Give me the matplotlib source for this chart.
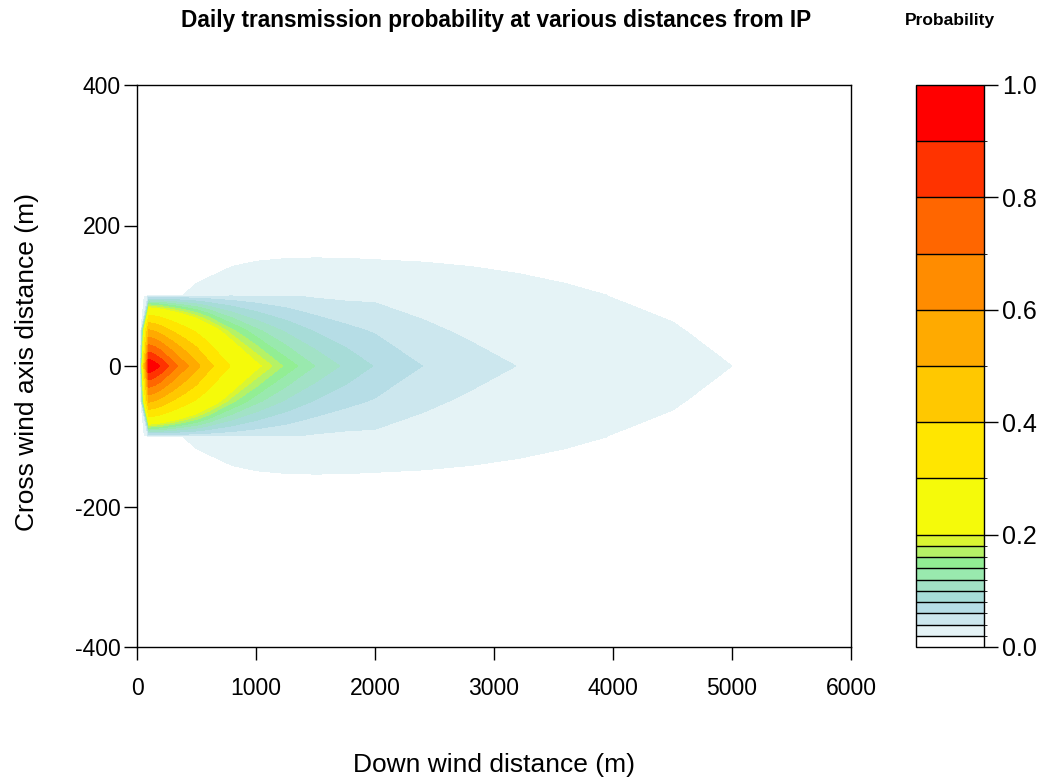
import numpy as np
import matplotlib
matplotlib.use("Agg")
import matplotlib.pyplot as plt
from matplotlib.colors import ListedColormap, BoundaryNorm

plt.rcParams['font.family'] = ['Liberation Sans', 'DejaVu Sans']
plt.rcParams['axes.unicode_minus'] = False

# Down wind sample positions (m)
downwind = [30, 100, 150, 200, 300, 400, 500, 600, 800, 1000, 1250, 1500,
            1750, 2000, 2400, 2800, 3200, 3600, 4000, 4500, 5000, 5500, 6000]

# Cross wind sample positions (m), upper half; the plume is symmetric about 0
crosswind_half = [0, 50, 99, 101, 250, 400]

# Daily transmission probability at each cross wind offset
prob_y0 = [0.03, 0.99, 0.95, 0.89, 0.75, 0.63, 0.53, 0.43, 0.287, 0.21, 0.154, 0.119,
           0.096, 0.0788, 0.060, 0.0495, 0.0396, 0.0352, 0.0309, 0.0254, 0.0200, 0.015, 0.011]
prob_y50 = [0.0, 0.513, 0.493, 0.464, 0.395, 0.336, 0.287, 0.237, 0.165, 0.126, 0.097, 0.078,
            0.066, 0.058, 0.045, 0.036, 0.029, 0.026, 0.0238, 0.0210, 0.0165, 0.012, 0.009]
prob_y99 = [0.0, 0.045, 0.046, 0.047, 0.048, 0.048, 0.048, 0.047, 0.046, 0.044, 0.042, 0.038,
            0.036, 0.036, 0.030, 0.025, 0.023, 0.0215, 0.0198, 0.0172, 0.014, 0.010, 0.007]
prob_y101 = [0.0, 0.0, 0.005, 0.01, 0.016, 0.0203, 0.0225, 0.024, 0.0275, 0.0295, 0.0307, 0.031,
             0.0308, 0.0302, 0.0292, 0.0275, 0.0252, 0.0225, 0.0196, 0.014, 0.008, 0.004, 0.002]
prob_y250 = [0.0] * len(downwind)
prob_y400 = [0.0] * len(downwind)

# Colour key
levels = [0.0, 0.02, 0.04, 0.06, 0.08, 0.10, 0.12, 0.14, 0.16, 0.18, 0.20,
          0.3, 0.4, 0.5, 0.6, 0.7, 0.8, 0.9, 1.0]
band_colors = ['#FFFFFF', '#E5F3F6', '#CCE7EE', '#B6DDE6', '#A7DCD8', '#A2E2C6',
               '#99E9AE', '#92EE94', '#B5F266', '#DAF532',
               '#F5FA0A', '#FFE600', '#FFC800', '#FFAA00', '#FF8C00', '#FF6600',
               '#FF3300', '#FF0000']
key_ticks = [0.0, 0.2, 0.4, 0.6, 0.8, 1.0]
key_labels = ['0.0', '0.2', '0.4', '0.6', '0.8', '1.0']

# Assemble the full symmetric grid
half_rows = [prob_y0, prob_y50, prob_y99, prob_y101, prob_y250, prob_y400]
crosswind = [-c for c in crosswind_half[::-1]] + crosswind_half[1:]
grid = np.array(half_rows[::-1] + half_rows[1:])

W, H = 1057, 780
fig = plt.figure(figsize=(W / 100, H / 100), dpi=100)

ax = fig.add_axes([137 / W, 133 / H, 714 / W, 562 / H])
cmap = ListedColormap(band_colors)
norm = BoundaryNorm(levels, cmap.N)
cf = ax.contourf(downwind, crosswind, grid, levels=levels, cmap=cmap, norm=norm,
                 antialiased=False)
ax.set_xlim(0, 6000)
ax.set_ylim(-400, 400)
ax.set_xticks(range(0, 6001, 1000))
ax.set_yticks(range(-400, 401, 200))
ax.tick_params(direction='out', length=9.5, width=1, labelsize=16.5, colors='black')
ax.tick_params(axis='x', pad=12)
ax.tick_params(axis='y', pad=2)
for s in ax.spines.values():
    s.set_linewidth(1)

fig.text(494 / W, 1 - 765 / H, 'Down wind distance (m)', ha='center', va='center', fontsize=19)
fig.text(27 / W, 1 - 362 / H, 'Cross wind axis distance (m)', ha='center', va='center',
         rotation=90, fontsize=19)
fig.text(496 / W, 1 - 20 / H, 'Daily transmission probability at various distances from IP',
         ha='center', va='center', fontsize=16.3, fontweight='bold')

cax = fig.add_axes([916 / W, 133 / H, 68 / W, 562 / H])
cb = fig.colorbar(cf, cax=cax, ticks=key_ticks, spacing='proportional', drawedges=True)
cb.dividers.set_color('black')
cb.dividers.set_linewidth(1)
cb.outline.set_linewidth(1)
cb.set_ticklabels(key_labels)
cax.tick_params(direction='out', length=10, width=1, labelsize=18, pad=3)
fig.text(950 / W, 1 - 20 / H, 'Probability', ha='center', va='center',
         fontsize=12.5, fontweight='bold')

fig.savefig('out.png', dpi=100)
